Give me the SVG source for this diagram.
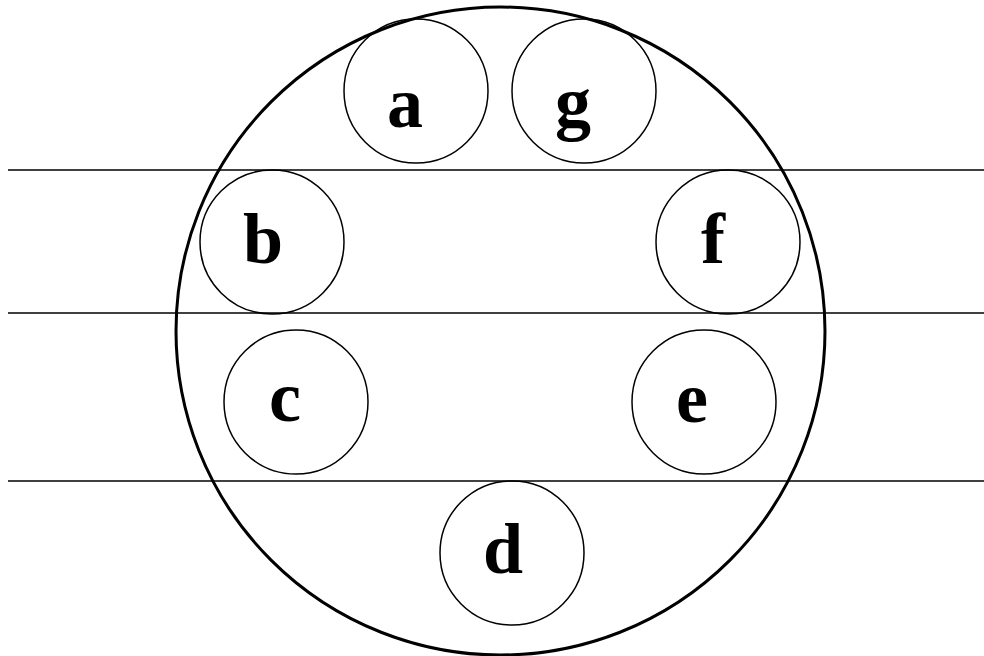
<svg xmlns="http://www.w3.org/2000/svg" width="984" height="656" viewBox="0 0 984 656">
<style>
.hl{stroke:#000;stroke-width:1.6;fill:none}
.sc{stroke:#000;stroke-width:1.5;fill:none}
.big{stroke:#000;stroke-width:3;fill:none}
.lb{font-family:"Liberation Serif","Times New Roman",serif;font-weight:bold;font-size:72px;text-anchor:middle;fill:#000}
</style>
<rect width="984" height="656" fill="#fff"/>
<g id="lines">
<line class="hl" x1="8" y1="170" x2="984" y2="170"/>
<line class="hl" x1="8" y1="313" x2="984" y2="313"/>
<line class="hl" x1="8" y1="481" x2="984" y2="481"/>
</g>
<g id="outer"><ellipse class="big" cx="500.5" cy="331" rx="324.5" ry="324"/></g>
<g id="node-a"><circle class="sc" cx="416" cy="91" r="72"/><text class="lb" x="405" y="127">a</text></g>
<g id="node-g"><circle class="sc" cx="584" cy="91" r="72"/><text class="lb" x="573" y="127">g</text></g>
<g id="node-b"><circle class="sc" cx="272" cy="242" r="72"/><text class="lb" x="263" y="263">b</text></g>
<g id="node-f"><circle class="sc" cx="728" cy="242" r="72"/><text class="lb" x="713" y="263">f</text></g>
<g id="node-c"><circle class="sc" cx="296" cy="402" r="72"/><text class="lb" x="285" y="421">c</text></g>
<g id="node-e"><circle class="sc" cx="704" cy="402" r="72"/><text class="lb" x="692" y="422">e</text></g>
<g id="node-d"><circle class="sc" cx="512" cy="553" r="72"/><text class="lb" x="503" y="573">d</text></g>
</svg>
